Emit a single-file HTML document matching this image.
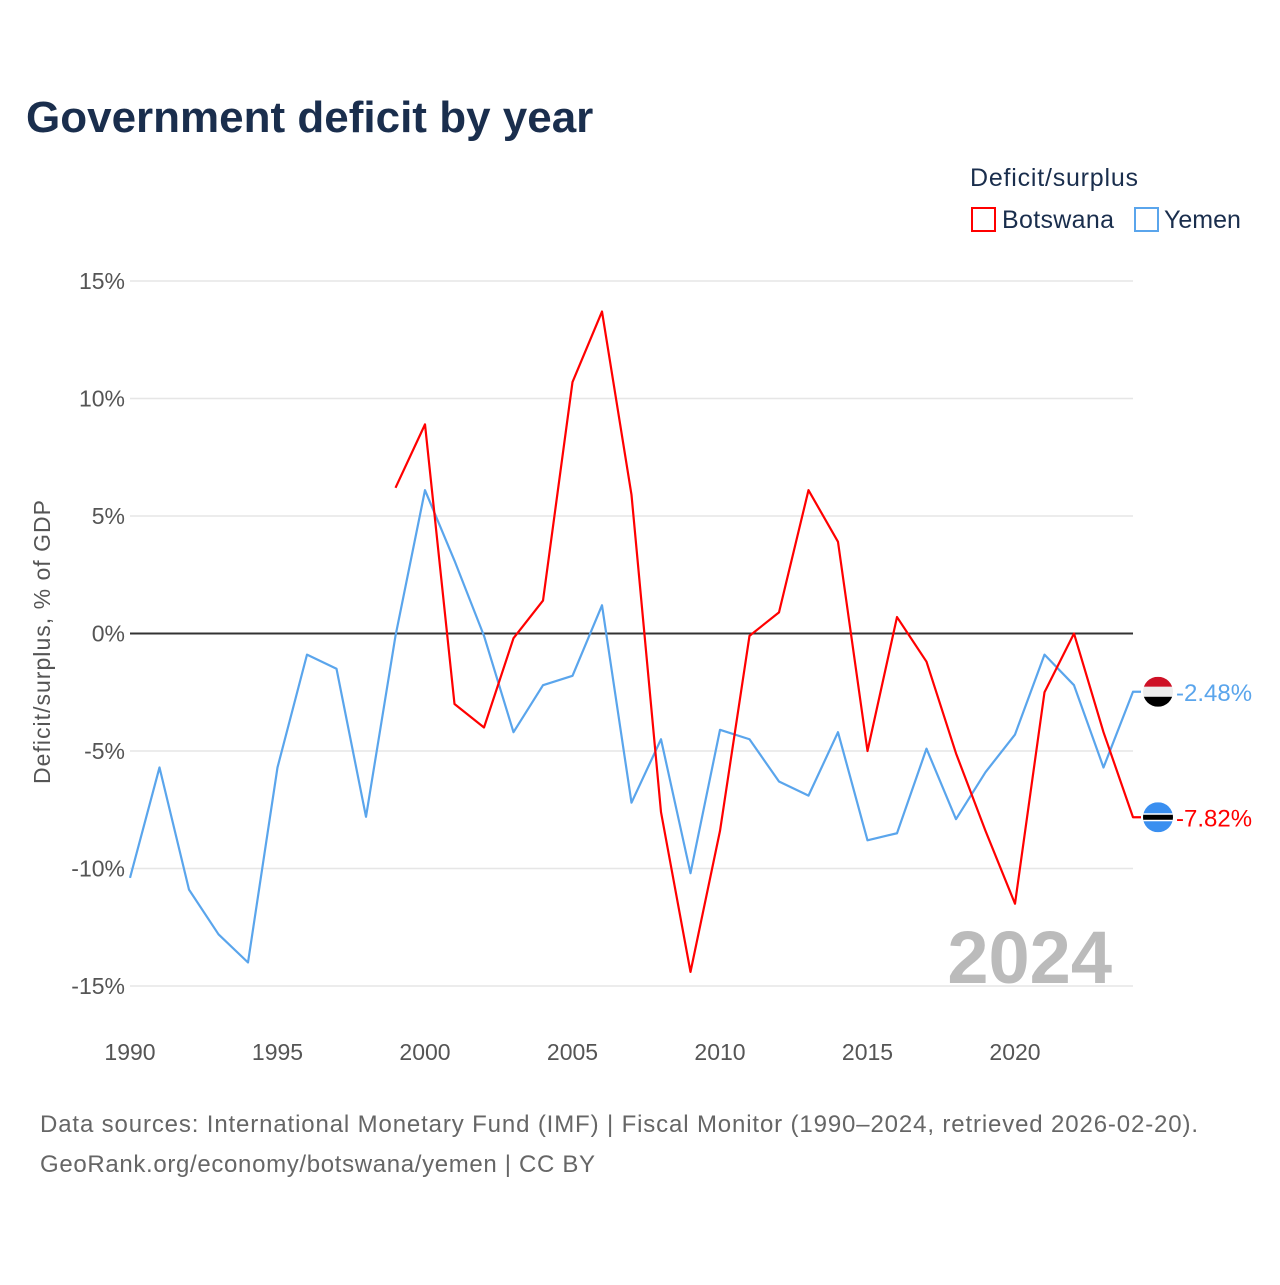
<!DOCTYPE html>
<html><head><meta charset="utf-8"><style>
body{margin:0;background:#fff;width:1280px;height:1280px;overflow:hidden;font-family:"Liberation Sans",sans-serif}
</style></head><body>
<svg id="c" width="1280" height="1280" xmlns="http://www.w3.org/2000/svg">
<text x="26" y="132" font-size="44" font-weight="bold" fill="#1a2e4d">Government deficit by year</text>
<text x="970" y="186" font-size="25" fill="#1a2e4d" textLength="168">Deficit/surplus</text>
<g><rect x="972" y="208" width="23" height="23" fill="none" stroke="#f00" stroke-width="2"/><text x="1002" y="228" font-size="25" fill="#1a2e4d" textLength="112">Botswana</text></g>
<g><rect x="1135" y="208" width="23" height="23" fill="none" stroke="#5aa5ec" stroke-width="2"/><text x="1164" y="228" font-size="25" fill="#1a2e4d">Yemen</text></g>
<text transform="translate(50,642) rotate(-90)" text-anchor="middle" font-size="23" fill="#555" textLength="284">Deficit/surplus, % of GDP</text>
<g id="grid"></g><g id="lines"></g>
<text x="1112" y="983" text-anchor="end" font-size="74" font-weight="bold" fill="#bbb">2024</text>
<text x="40" y="1132" font-size="24" fill="#666" textLength="1158">Data sources: International Monetary Fund (IMF) | Fiscal Monitor (1990–2024, retrieved 2026-02-20).</text>
<text x="40" y="1172" font-size="24" fill="#666" textLength="555">GeoRank.org/economy/botswana/yemen | CC BY</text>
</svg>
<script>
const yTicks=[15,10,5,0,-5,-10,-15];
const xTicks=[1990,1995,2000,2005,2010,2015,2020];
const yemenYears=[1990,1991,1992,1993,1994,1995,1996,1997,1998,1999,2000,2001,2002,2003,2004,2005,2006,2007,2008,2009,2010,2011,2012,2013,2014,2015,2016,2017,2018,2019,2020,2021,2022,2023,2024];
const yemenVals=[-10.4,-5.7,-10.9,-12.8,-14.0,-5.7,-0.9,-1.5,-7.8,-0.1,6.1,3.1,-0.1,-4.2,-2.2,-1.8,1.2,-7.2,-4.5,-10.2,-4.1,-4.5,-6.3,-6.9,-4.2,-8.8,-8.5,-4.9,-7.9,-5.9,-4.3,-0.9,-2.2,-5.7,-2.48];
const botYears=[1999,2000,2001,2002,2003,2004,2005,2006,2007,2008,2009,2010,2011,2012,2013,2014,2015,2016,2017,2018,2019,2020,2021,2022,2023,2024];
const botVals=[6.2,8.9,-3.0,-4.0,-0.2,1.4,10.7,13.7,5.9,-7.6,-14.4,-8.4,-0.1,0.9,6.1,3.9,-5.0,0.7,-1.2,-5.1,-8.4,-11.5,-2.5,0.0,-4.2,-7.82];
const X=y=>130+(y-1990)*(1003/34);
const Y=v=>633.5-v*23.5;
const NS="http://www.w3.org/2000/svg";
const g=document.getElementById('grid'),L=document.getElementById('lines');
function mk(t,a,p){const e=document.createElementNS(NS,t);for(const k in a)e.setAttribute(k,a[k]);p.appendChild(e);return e;}
yTicks.forEach(v=>{
 const l=mk('line',{x1:130,x2:1133,y1:Y(v),y2:Y(v),stroke:v===0?'#333':'#e6e6e6','stroke-width':v===0?2:1.5},g);
 
 
 const t=mk('text',{x:125,y:Y(v)+8,'text-anchor':'end','font-size':23,fill:'#555'},g);
 t.textContent=v+'%';
 
 
});
xTicks.forEach(yr=>{
 const t=mk('text',{x:X(yr),y:1060,'text-anchor':'middle','font-size':23,fill:'#555'},g);
 t.textContent=yr;
 
 
});
function series(yrs,vals,col,name,flag){
 let pts=yrs.map((y,i)=>X(y)+','+Y(vals[i]));
 const last=vals[vals.length-1];
 pts.push('1141,'+Y(last));
 const p=mk('polyline',{points:pts.join(' '),fill:'none',stroke:col,'stroke-width':2.2,'stroke-linejoin':'round'},L);
 
 
 const cy=Y(last),cx=1158;
 const gf=mk('g',{},L);
 
 
 const cp=mk('clipPath',{id:'cp'+name},gf);mk('circle',{cx:cx,cy:cy,r:15},cp);
 const gg=mk('g',{'clip-path':'url(#cp'+name+')'},gf);
 if(flag==='ye'){mk('rect',{x:cx-15,y:cy-15,width:30,height:10,fill:'#ce1126'},gg);mk('rect',{x:cx-15,y:cy-5,width:30,height:10,fill:'#eee'},gg);mk('rect',{x:cx-15,y:cy+5,width:30,height:10,fill:'#000'},gg);}
 else{mk('rect',{x:cx-15,y:cy-15,width:30,height:30,fill:'#3a8ff0'},gg);mk('rect',{x:cx-15,y:cy-4,width:30,height:8,fill:'#fff'},gg);mk('rect',{x:cx-15,y:cy-2.5,width:30,height:5,fill:'#000'},gg);}
 const t=mk('text',{x:1176,y:cy+9,'font-size':24,fill:col},L);
 t.textContent=last.toFixed(2)+'%';
 
 
}
series(yemenYears,yemenVals,'#5aa5ec','yemen','ye');
series(botYears,botVals,'#ff0000','botswana','bw');
</script>
</body></html>
